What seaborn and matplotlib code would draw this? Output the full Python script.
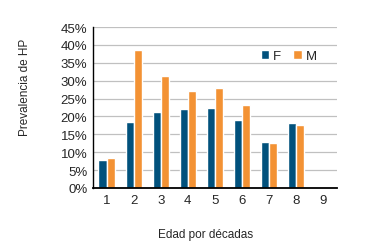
#!/usr/bin/env python3
"""Prevalencia de HP por décadas de edad, barras agrupadas F / M"""

import numpy as np
import pandas as pd
import seaborn as sns
import matplotlib.pyplot as plt
from matplotlib.ticker import PercentFormatter

# DATA
decadas = ["1", "2", "3", "4", "5", "6", "7", "8", "9"]
prev_F = [7.8, 18.4, 21.2, 22.1, 22.3, 19.0, 12.8, 18.2, np.nan]
prev_M = [8.4, 38.5, 31.3, 27.1, 27.9, 23.2, 12.6, 17.6, np.nan]
sexos = ["F", "M"]

df = pd.DataFrame({
    "Decada": decadas * 2,
    "Prevalencia": prev_F + prev_M,
    "Sexo": ["F"] * len(decadas) + ["M"] * len(decadas),
})

# STYLE
sns.set_style("white")
plt.rcParams["font.family"] = ["Liberation Sans Narrow", "Liberation Sans", "DejaVu Sans"]
colores = {"F": "#01517c", "M": "#f39234"}

fig = plt.figure(figsize=(3.69, 2.53), dpi=100)
ax = fig.add_axes([0.252, 0.253, 0.661, 0.636])

sns.barplot(data=df, x="Decada", y="Prevalencia", hue="Sexo",
            order=decadas, hue_order=sexos, palette=colores,
            width=0.6, saturation=1, ax=ax)

ax.set_ylim(0, 45)
ax.set_xlim(-0.5, 8.5)
ax.set_yticks(range(0, 46, 5))
ax.yaxis.set_major_formatter(PercentFormatter(decimals=0))
ax.yaxis.grid(True, color="#c0c0c0", linewidth=0.9)
ax.set_axisbelow(True)

for s in ["top", "right"]:
    ax.spines[s].set_visible(False)
ax.spines["left"].set_color("black")
ax.spines["left"].set_linewidth(1.0)
ax.spines["bottom"].set_color("black")
ax.spines["bottom"].set_linewidth(1.3)

ax.tick_params(axis="both", length=0, labelsize=9.5, pad=4)
ax.set_xlabel("Edad por décadas", fontsize=8.5)
ax.set_ylabel("Prevalencia de HP", fontsize=8.5)
ax.xaxis.set_label_coords(0.46, -0.25)
ax.yaxis.set_label_coords(-0.255, 0.63)

leg = ax.legend(loc="center left", bbox_to_anchor=(0.66, 0.82), ncol=2,
                frameon=False, fontsize=9.5, handlelength=0.65, handleheight=0.65,
                columnspacing=0.9, handletextpad=0.3, borderpad=0)

fig.savefig("out.png", dpi=100)
